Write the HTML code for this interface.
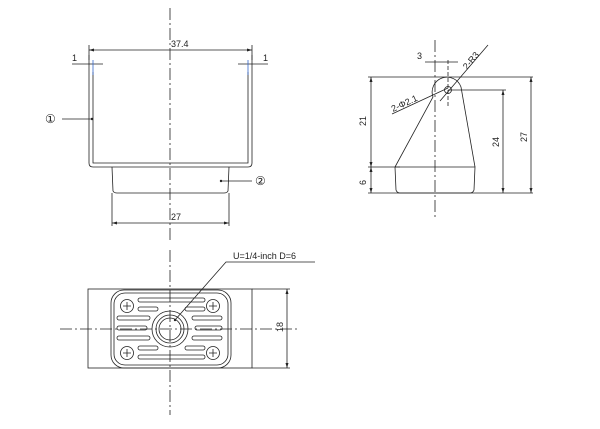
<!DOCTYPE html>
<html><head><meta charset="utf-8"><style>
html,body{margin:0;padding:0;background:#fff;}
svg{display:block;}
text{font-family:"Liberation Sans","DejaVu Sans",sans-serif;font-size:9px;fill:#222;}
.c{font-family:"DejaVu Sans","Noto Sans CJK JP",sans-serif;font-size:12px;}
</style></head><body>
<svg width="600" height="429" viewBox="0 0 600 429" xmlns="http://www.w3.org/2000/svg">
<g stroke="#222" stroke-width="0.8" fill="none">
<line x1="170" y1="8" x2="170" y2="242" stroke-dasharray="12,3,2,3"/>
<path d="M89,55 V163 Q89,167 93,167 H248 Q252,167 252,163 V55"/>
<path d="M93,72 V163 H248 V72"/>
<line x1="89" y1="50" x2="252" y2="50"/>
<line x1="89" y1="45" x2="89" y2="60"/><line x1="252" y1="45" x2="252" y2="60"/>
<line x1="72" y1="64" x2="103" y2="64"/><line x1="238" y1="64" x2="268" y2="64"/>
<line x1="93" y1="60" x2="93" y2="75" stroke="#36c"/><line x1="248" y1="60" x2="248" y2="75" stroke="#36c"/>
<line x1="62" y1="119" x2="92" y2="119"/>
<path d="M112,167 L113,191 Q114,193 117,193 H224 Q227,193 228,191 L229,167"/>
<line x1="112" y1="193" x2="112" y2="226"/><line x1="229" y1="193" x2="229" y2="226"/>
<line x1="112" y1="223" x2="229" y2="223"/>
<line x1="222" y1="181" x2="252" y2="181"/>
<line x1="435" y1="40" x2="435" y2="218" stroke-dasharray="12,3,2,3"/>
<line x1="448" y1="60" x2="448" y2="108" stroke-dasharray="4,2"/>
<line x1="368" y1="77" x2="533" y2="77"/>
<line x1="368" y1="193" x2="533" y2="193"/>
<line x1="368" y1="167" x2="400" y2="167"/>
<path d="M395,167 L433,97 A14,14 0 0 1 461,87 L475,167"/>
<path d="M395,167 L396,190 Q397,193 400,193 H470 Q473,193 474,190 L475,167 Z"/>
<circle cx="448" cy="90" r="3.5"/>
<line x1="448" y1="90" x2="506" y2="90"/>
<line x1="371" y1="77" x2="371" y2="193"/>
<line x1="503" y1="90" x2="503" y2="193"/>
<line x1="531" y1="77" x2="531" y2="193"/>
<line x1="425" y1="62" x2="458" y2="62"/>
<line x1="392" y1="114" x2="448" y2="88"/>
<line x1="440" y1="101" x2="488" y2="45"/>
<line x1="170" y1="250" x2="170" y2="415" stroke-dasharray="12,3,2,3"/>
<line x1="60" y1="329" x2="300" y2="329" stroke-dasharray="12,3,2,3"/>
<rect x="88" y="289" width="164" height="79"/>
<rect x="111" y="290" width="120" height="78" rx="13"/>
<rect x="114" y="293" width="114" height="72" rx="11"/>
<line x1="252" y1="289" x2="290" y2="289"/><line x1="252" y1="368" x2="290" y2="368"/>
<line x1="287" y1="289" x2="287" y2="368"/>
<circle cx="170" cy="329" r="18"/><circle cx="170" cy="329" r="14"/><circle cx="170" cy="329" r="11"/>
<g>
<rect x="138" y="298" width="67" height="4" rx="2"/><rect x="138" y="355" width="67" height="4" rx="2"/>
<rect x="138" y="307" width="20" height="4" rx="2"/><rect x="185" y="307" width="20" height="4" rx="2"/>
<rect x="138" y="346" width="20" height="4" rx="2"/><rect x="185" y="346" width="20" height="4" rx="2"/>
<rect x="117" y="316" width="33" height="4" rx="2"/><rect x="192" y="316" width="30" height="4" rx="2"/>
<rect x="117" y="326" width="30" height="4" rx="2"/><rect x="195" y="326" width="27" height="4" rx="2"/>
<rect x="117" y="336" width="33" height="4" rx="2"/><rect x="192" y="336" width="30" height="4" rx="2"/>
</g>
<g>
<circle cx="127" cy="306" r="6.5"/><path d="M123,306 H131 M127,302 V310"/>
<circle cx="213" cy="306" r="6.5"/><path d="M209,306 H217 M213,302 V310"/>
<circle cx="127" cy="353" r="6.5"/><path d="M123,353 H131 M127,349 V357"/>
<circle cx="213" cy="353" r="6.5"/><path d="M209,353 H217 M213,349 V357"/>
</g>
<polyline points="175,320 226,262 315,262"/>
</g>
<g fill="#222">
<circle cx="92" cy="119" r="1.2"/><circle cx="221" cy="181" r="1.2"/><circle cx="175" cy="320" r="1.2"/>
<path d="M89,50 l5,-1.5 v3z M252,50 l-5,-1.5 v3z M112,223 l5,-1.5 v3z M229,223 l-5,-1.5 v3z"/>
<path d="M371,77 l-1.5,5 h3z M371,167 l-1.5,-5 h3z M371,167 l-1.5,5 h3z M371,193 l-1.5,-5 h3z"/>
<path d="M503,90 l-1.5,5 h3z M503,193 l-1.5,-5 h3z M531,77 l-1.5,5 h3z M531,193 l-1.5,-5 h3z"/>
<path d="M287,289 l-1.5,5 h3z M287,368 l-1.5,-5 h3z"/>
</g>
<text x="171" y="47">37.4</text>
<text x="72" y="61">1</text><text x="263" y="61">1</text>
<text x="45" y="123" class="c">①</text>
<text x="255" y="185" class="c">②</text>
<text x="171" y="220">27</text>
<text x="417" y="59">3</text>
<text transform="translate(366,126) rotate(-90)">21</text>
<text transform="translate(366,185) rotate(-90)">6</text>
<text transform="translate(499,147) rotate(-90)">24</text>
<text transform="translate(527,142) rotate(-90)">27</text>
<text transform="translate(393,112) rotate(-25)">2-Φ2.1</text>
<text transform="translate(467,70) rotate(-50)">2-R3</text>
<text x="233" y="259">U=1/4-inch D=6</text>
<text transform="translate(283,332) rotate(-90)">18</text>
</svg>
</body></html>
